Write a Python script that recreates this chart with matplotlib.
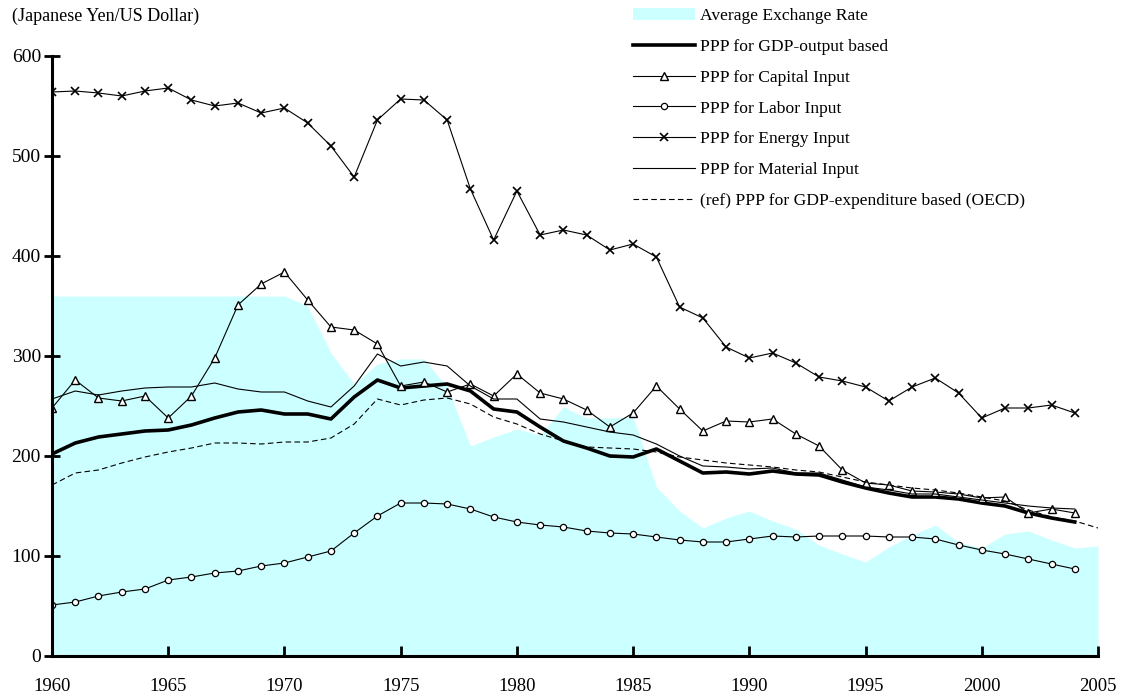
import numpy as np
import matplotlib
matplotlib.use("Agg")
import matplotlib.pyplot as plt

plt.rcParams["font.family"] = ["Liberation Serif", "DejaVu Serif"]

# ----------------------------
# Data
# ----------------------------
years = np.arange(1960, 2005)
years_ext = np.arange(1960, 2006)

exchange_rate = [360, 360, 360, 360, 360, 360, 360, 360, 360, 360, 360,
                 350, 303, 272, 292, 297, 297, 269, 210, 219, 227, 221,
                 249, 238, 238, 239, 169, 145, 128, 138, 145, 135, 127,
                 111, 102, 94, 109, 121, 131, 114, 108, 122, 125, 116,
                 108, 110]

ppp_output = [202, 213, 219, 222, 225, 226, 231, 238, 244, 246, 242, 242,
              237, 259, 276, 268, 270, 272, 265, 247, 244, 229, 215, 208,
              200, 199, 207, 195, 183, 184, 182, 185, 182, 181, 174, 168,
              163, 159, 159, 157, 153, 150, 143, 138, 134]

ppp_capital = [248, 276, 258, 255, 260, 238, 260, 298, 351, 372, 384, 356,
               329, 326, 312, 270, 274, 264, 272, 260, 282, 263, 257, 246,
               229, 243, 270, 247, 225, 235, 234, 237, 222, 210, 186, 173,
               171, 165, 164, 162, 158, 159, 143, 147, 143]

ppp_labor = [51, 54, 60, 64, 67, 76, 79, 83, 85, 90, 93, 99, 105, 123, 140,
             153, 153, 152, 147, 139, 134, 131, 129, 125, 123, 122, 119,
             116, 114, 114, 117, 120, 119, 120, 120, 120, 119, 119, 117,
             111, 106, 102, 97, 92, 87]

ppp_energy = [564, 565, 563, 560, 565, 568, 556, 550, 553, 543, 548, 533,
              510, 479, 536, 557, 556, 536, 467, 416, 465, 421, 426, 421,
              406, 412, 399, 349, 338, 309, 298, 303, 293, 279, 275, 269,
              255, 269, 278, 263, 238, 248, 248, 251, 243]

ppp_material = [257, 265, 261, 265, 268, 269, 269, 273, 267, 264, 264, 255,
                249, 270, 302, 290, 294, 290, 270, 257, 257, 237, 234, 229,
                224, 221, 212, 200, 190, 189, 187, 188, 183, 183, 176, 169,
                166, 162, 162, 159, 156, 153, 150, 148, 147]

ppp_oecd = [171, 183, 186, 193, 199, 204, 208, 213, 213, 212, 214, 214,
            218, 232, 257, 251, 256, 258, 252, 239, 232, 222, 215, 209,
            208, 207, 204, 199, 196, 193, 191, 189, 186, 184, 179, 174,
            171, 168, 166, 163, 159, 155, 146, 139, 135, 128]

# ----------------------------
# Plot
# ----------------------------
fig = plt.figure(figsize=(11.22, 6.96), dpi=100)
ax = fig.add_axes([52 / 1122, 40 / 696, 1046 / 1122, 600 / 696])

ax.fill_between(years_ext, exchange_rate, 0, color="#ccffff", lw=0,
                label="Average Exchange Rate")
ax.plot(years, ppp_output, color="black", lw=2.6,
        label="PPP for GDP-output based")
ax.plot(years, ppp_capital, color="black", lw=0.8, marker="^", ms=6,
        mfc="white", mec="black", mew=1.0, label="PPP for Capital Input")
ax.plot(years, ppp_labor, color="black", lw=0.8, marker="o", ms=4.5,
        mfc="white", mec="black", mew=0.9, label="PPP for Labor Input")
ax.plot(years, ppp_energy, color="black", lw=0.8, marker="x", ms=6,
        mew=1.2, label="PPP for Energy Input")
ax.plot(years, ppp_material, color="black", lw=0.8,
        label="PPP for Material Input")
ax.plot(years_ext, ppp_oecd, color="black", lw=0.8, ls=(0, (5, 3)),
        label="(ref) PPP for GDP-expenditure based (OECD)")

ax.set_xlim(1960, 2005)
ax.set_ylim(0, 600)
ax.set_xticks(np.arange(1960, 2006, 5))
ax.set_yticks(np.arange(0, 601, 100))

for side in ("top", "right"):
    ax.spines[side].set_visible(False)
for side in ("left", "bottom"):
    ax.spines[side].set_linewidth(2.2)

ax.tick_params(axis="x", direction="in", length=7, width=2, pad=16,
               labelsize=13.5)
ax.tick_params(axis="y", direction="inout", length=12, width=2, pad=2,
               labelsize=14)

fig.text(12 / 1122, 1 - 16 / 696, "(Japanese Yen/US Dollar)", fontsize=13,
         ha="left", va="center")

fig.legend(loc="upper left", bbox_to_anchor=(626 / 1122, 1 - 1 / 696),
           frameon=False, fontsize=12.6, handlelength=3.55, handletextpad=0.3,
           labelspacing=0.83, numpoints=1, borderaxespad=0)

fig.savefig("out.png", dpi=100)
